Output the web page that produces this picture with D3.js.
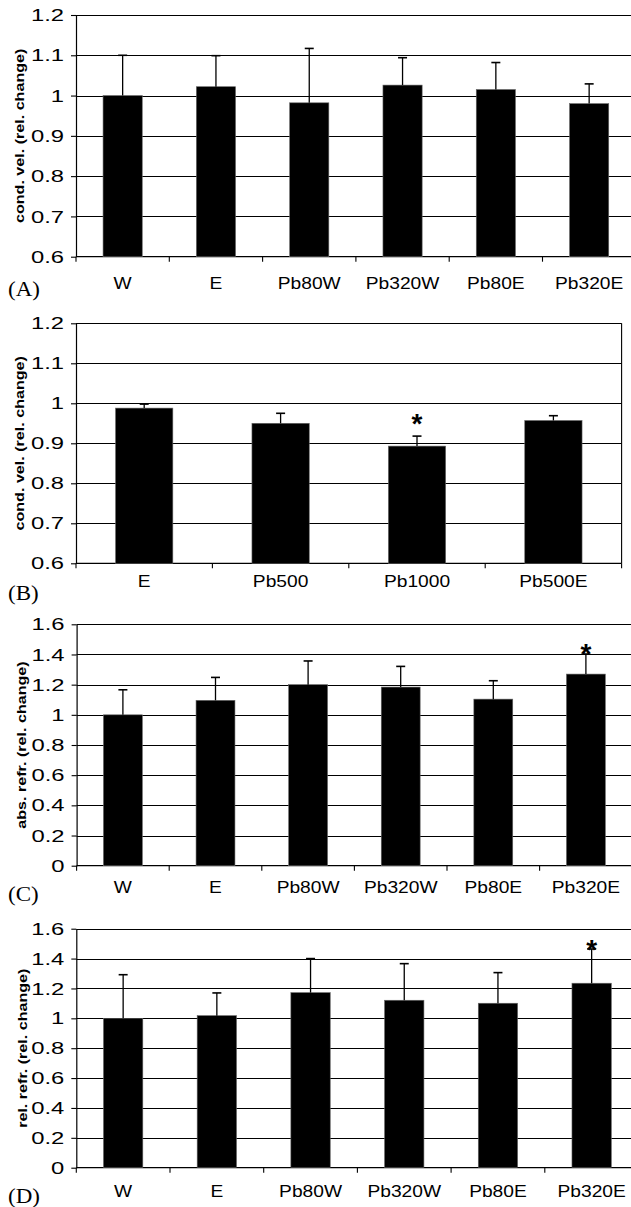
<!DOCTYPE html>
<html>
<head>
<meta charset="utf-8">
<script src="https://cdn.jsdelivr.net/npm/d3@7"></script>
<style>
  html, body { margin: 0; padding: 0; background: #fff; }
  svg { display: block; }
</style>
</head>
<body>
<svg id="chart" width="631" height="1207"></svg>
<script>
// ---------- data ----------
const catsA = ["W", "E", "Pb80W", "Pb320W", "Pb80E", "Pb320E"];
const valsA = [1.000, 1.022, 0.982, 1.026, 1.015, 0.980];
const errA  = [0.100, 0.077, 0.135, 0.068, 0.067, 0.049];
const sigA  = ["", "", "", "", "", ""];

const catsB = ["E", "Pb500", "Pb1000", "Pb500E"];
const valsB = [0.988, 0.950, 0.893, 0.957];
const errB  = [0.010, 0.025, 0.025, 0.012];
const sigB  = ["", "", "*", ""];

const catsC = ["W", "E", "Pb80W", "Pb320W", "Pb80E", "Pb320E"];
const valsC = [1.000, 1.096, 1.200, 1.184, 1.104, 1.270];
const errC  = [0.166, 0.152, 0.157, 0.137, 0.122, 0.133];
const sigC  = ["", "", "", "", "", "*"];

const catsD = ["W", "E", "Pb80W", "Pb320W", "Pb80E", "Pb320E"];
const valsD = [1.000, 1.018, 1.172, 1.121, 1.101, 1.235];
const errD  = [0.292, 0.152, 0.228, 0.245, 0.205, 0.229];
const sigD  = ["", "", "", "", "", "*"];

const ticksAB = [0.6, 0.7, 0.8, 0.9, 1.0, 1.1, 1.2];
const tickLabelsAB = ["0.6", "0.7", "0.8", "0.9", "1", "1.1", "1.2"];
const ticksCD = [0, 0.2, 0.4, 0.6, 0.8, 1.0, 1.2, 1.4, 1.6];
const tickLabelsCD = ["0", "0.2", "0.4", "0.6", "0.8", "1", "1.2", "1.4", "1.6"];

const titleA = "cond. vel. (rel. change)";
const titleB = "cond. vel. (rel. change)";
const titleC = "abs. refr. (rel. change)";
const titleD = "rel. refr. (rel. change)";

// ---------- layout ----------
const panels = [
  { letter: "(A)", cats: catsA, vals: valsA, err: errA, sig: sigA, ticks: ticksAB, tickLabels: tickLabelsAB,
    title: titleA, x0: 76, band: 93.3, top: 15, bottom: 256.7, rightBorder: false,
    labelDy: 27, letterY: 296, titleX: 19, starDy: 7 },
  { letter: "(B)", cats: catsB, vals: valsB, err: errB, sig: sigB, ticks: ticksAB, tickLabels: tickLabelsAB,
    title: titleB, x0: 76, band: 136.4, top: 323.3, bottom: 563.3, rightBorder: true,
    labelDy: 18, letterY: 600, titleX: 19, starDy: 18.7 },
  { letter: "(C)", cats: catsC, vals: valsC, err: errC, sig: sigC, ticks: ticksCD, tickLabels: tickLabelsCD,
    title: titleC, x0: 76.6, band: 92.6, top: 624.3, bottom: 865.7, rightBorder: false,
    labelDy: 22, letterY: 901, titleX: 21, starDy: 6.8 },
  { letter: "(D)", cats: catsD, vals: valsD, err: errD, sig: sigD, ticks: ticksCD, tickLabels: tickLabelsCD,
    title: titleD, x0: 76.3, band: 93.7, top: 928.7, bottom: 1167.7, rightBorder: false,
    labelDy: 23.5, letterY: 1203, titleX: 22.5, starDy: 6.3 }
];

const svg = d3.select("#chart");
const SANS = "'Liberation Sans', Arial, sans-serif";
const SERIF = "'Liberation Serif', 'Times New Roman', serif";

panels.forEach(p => {
  const g = svg.append("g");
  const n = p.cats.length;
  const x1 = p.x0 + n * p.band;
  const x = d3.scaleBand().domain(p.cats).range([p.x0, x1]).padding(0);
  const y = d3.scaleLinear().domain([p.ticks[0], p.ticks[p.ticks.length - 1]]).range([p.bottom, p.top]);

  // gridlines
  g.selectAll("line.grid").data(p.ticks.slice(1)).join("line")
    .attr("x1", p.x0).attr("x2", x1)
    .attr("y1", d => Math.round(y(d)) + 0.5).attr("y2", d => Math.round(y(d)) + 0.5)
    .attr("stroke", "#000").attr("stroke-width", 1.1);

  // left axis (ticks only)
  const ax = g.append("g").attr("transform", `translate(${p.x0},0)`)
    .call(d3.axisLeft(y).tickValues(p.ticks).tickSize(5).tickSizeOuter(0).tickFormat(""));
  ax.selectAll("line").attr("stroke", "#000").attr("stroke-width", 1.1);
  ax.select(".domain").attr("stroke", "#000").attr("stroke-width", 1.2);

  // tick labels (stretched wide like original)
  p.ticks.forEach((t, i) => {
    g.append("text")
      .attr("transform", `translate(${p.x0 - 12},${y(t)}) scale(1.4,1)`)
      .attr("text-anchor", "end").attr("dy", "0.36em")
      .attr("font-family", SANS).attr("font-size", 17).attr("fill", "#000")
      .text(p.tickLabels[i]);
  });

  // bottom axis line + ticks at band boundaries
  g.append("line").attr("x1", p.x0).attr("x2", x1)
    .attr("y1", p.bottom).attr("y2", p.bottom).attr("stroke", "#000").attr("stroke-width", 1.2);
  const bounds = p.cats.map(c => x(c)).concat([x1]);
  g.selectAll("line.xt").data(bounds).join("line")
    .attr("x1", d => d).attr("x2", d => d)
    .attr("y1", p.bottom).attr("y2", p.bottom + 5)
    .attr("stroke", "#000").attr("stroke-width", 1.1);

  if (p.rightBorder) {
    g.append("line").attr("x1", x1).attr("x2", x1)
      .attr("y1", p.top).attr("y2", p.bottom).attr("stroke", "#000").attr("stroke-width", 1.1);
  }

  // bars
  const bw = x.bandwidth() * 0.42;
  const off = (x.bandwidth() - bw) / 2;
  const rows = p.cats.map((c, i) => ({ c, v: p.vals[i], e: p.err[i], s: p.sig[i] }));
  g.selectAll("rect.bar").data(rows).join("rect")
    .attr("x", d => x(d.c) + off).attr("width", bw)
    .attr("y", d => y(d.v)).attr("height", d => p.bottom - y(d.v))
    .attr("fill", "#000").attr("stroke", "#666").attr("stroke-width", 0.6);

  // error bars (upper only)
  const cx = d => x(d.c) + x.bandwidth() / 2;
  g.selectAll("line.err").data(rows).join("line")
    .attr("x1", cx).attr("x2", cx)
    .attr("y1", d => y(d.v)).attr("y2", d => y(d.v + d.e))
    .attr("stroke", "#000").attr("stroke-width", 1.3);
  g.selectAll("line.cap").data(rows).join("line")
    .attr("x1", d => cx(d) - 4.5).attr("x2", d => cx(d) + 4.5)
    .attr("y1", d => y(d.v + d.e)).attr("y2", d => y(d.v + d.e))
    .attr("stroke", "#000").attr("stroke-width", 1.6);

  // significance stars
  g.selectAll("text.star").data(rows.filter(d => d.s)).join("text")
    .attr("x", cx).attr("y", d => y(d.v + d.e) - p.starDy + 16)
    .attr("text-anchor", "middle")
    .attr("font-family", SANS).attr("font-weight", "bold").attr("font-size", 28)
    .text(d => d.s);

  // category labels
  rows.forEach(d => {
    g.append("text")
      .attr("transform", `translate(${cx(d)},${p.bottom + p.labelDy}) scale(1.2,1)`)
      .attr("text-anchor", "middle").attr("dy", "0.36em")
      .attr("font-family", SANS).attr("font-size", 16).attr("fill", "#000")
      .text(d.c);
  });

  // y title
  g.append("text")
    .attr("transform", `translate(${p.titleX},${(p.top + p.bottom) / 2}) rotate(-90) scale(1.24,1)`)
    .attr("text-anchor", "middle").attr("dy", "0.35em")
    .attr("font-family", SANS).attr("font-weight", "bold").attr("font-size", 13)
    .text(p.title);

  // panel letter
  g.append("text")
    .attr("transform", `translate(8,${p.letterY}) scale(1.15,1)`)
    .attr("font-family", SERIF).attr("font-size", 20).attr("fill", "#000")
    .text(p.letter);
});
</script>
</body>
</html>
